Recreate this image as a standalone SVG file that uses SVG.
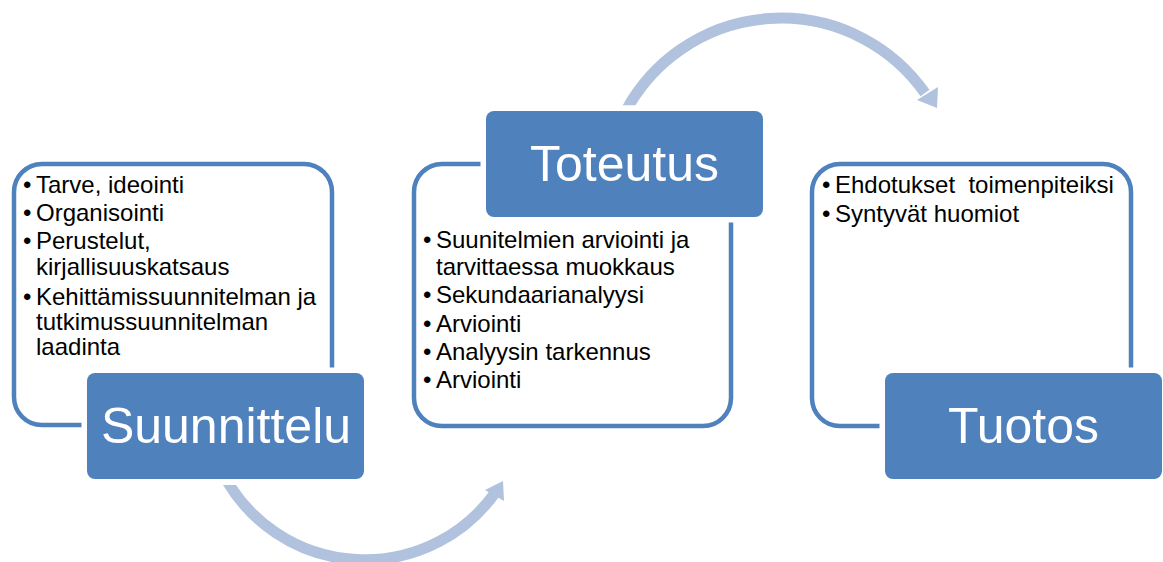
<svg xmlns="http://www.w3.org/2000/svg" width="1163" height="562" viewBox="0 0 1163 562">
<style>
.frame{fill:none;stroke:#4F81BD;stroke-width:4.5}
.box{fill:#4F81BD;stroke:#FFFFFF;stroke-width:11;paint-order:stroke}
.title{font-family:"Liberation Sans",Arial,sans-serif;font-size:50px;fill:#FFFFFF;text-anchor:middle}
.body{font-family:"Liberation Sans",Arial,sans-serif;font-size:24px;fill:#000000}
.arc{fill:none;stroke:#B0C2DE;stroke-width:11}
.head{fill:#B0C2DE}
</style>
<defs>
<clipPath id="clipTop"><rect x="0" y="0" width="1163" height="105.5"/></clipPath>
<clipPath id="clipBot"><rect x="0" y="485" width="1163" height="100"/></clipPath>
</defs>
<rect width="1163" height="562" fill="#FFFFFF"/>
<g id="connectors">
<path class="arc" clip-path="url(#clipTop)" d="M 625.3 112 A 176 176 0 0 1 925 93"/>
<polygon class="head" points="917,100 938,87 937,108"/>
<path class="arc" clip-path="url(#clipBot)" d="M 225.3 478 A 160 160 0 0 0 495 493"/>
<polygon class="head" points="485,490 503,481 504,501"/>
</g>
<g id="suunnittelu">
<rect class="frame" x="14" y="164" width="318" height="261" rx="28"/>
<text class="body" x="23" y="193">•</text><text class="body" x="36" y="193">Tarve, ideointi</text>
<text class="body" x="23" y="221">•</text><text class="body" x="36" y="221">Organisointi</text>
<text class="body" x="23" y="249">•</text><text class="body" x="36" y="249">Perustelut,</text>
<text class="body" x="36" y="275">kirjallisuuskatsaus</text>
<text class="body" x="23" y="305">•</text><text class="body" x="36" y="305">Kehittämissuunnitelman ja</text>
<text class="body" x="36" y="330">tutkimussuunnitelman</text>
<text class="body" x="36" y="355">laadinta</text>
<rect class="box" x="87" y="373" width="277" height="106" rx="8"/>
<text class="title" x="226" y="443">Suunnittelu</text>
</g>
<g id="toteutus">
<rect class="frame" x="414" y="164" width="317" height="262" rx="28"/>
<text class="body" x="423" y="248">•</text><text class="body" x="436" y="248">Suunitelmien arviointi ja</text>
<text class="body" x="436" y="275">tarvittaessa muokkaus</text>
<text class="body" x="423" y="303">•</text><text class="body" x="436" y="303">Sekundaarianalyysi</text>
<text class="body" x="423" y="332">•</text><text class="body" x="436" y="332">Arviointi</text>
<text class="body" x="423" y="360">•</text><text class="body" x="436" y="360">Analyysin tarkennus</text>
<text class="body" x="423" y="388">•</text><text class="body" x="436" y="388">Arviointi</text>
<rect class="box" x="486" y="111" width="277" height="106" rx="8"/>
<text class="title" x="624.5" y="181">Toteutus</text>
</g>
<g id="tuotos">
<rect class="frame" x="812" y="164" width="319" height="262" rx="28"/>
<text class="body" x="822" y="193">•</text><text class="body" x="835" y="193" xml:space="preserve">Ehdotukset  toimenpiteiksi</text>
<text class="body" x="822" y="222">•</text><text class="body" x="835" y="222">Syntyvät huomiot</text>
<rect class="box" x="885" y="373" width="277" height="106" rx="8"/>
<text class="title" x="1023.5" y="443">Tuotos</text>
</g>
</svg>
